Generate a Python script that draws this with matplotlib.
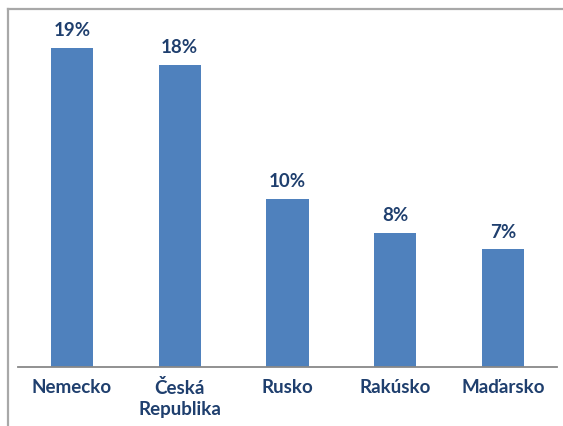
import matplotlib
matplotlib.use("Agg")
import matplotlib.pyplot as plt
from matplotlib.lines import Line2D

categories = ["Nemecko", "Česká\nRepublika", "Rusko", "Rakúsko", "Maďarsko"]
values = [19, 18, 10, 8, 7]
labels = ["19%", "18%", "10%", "8%", "7%"]

bar_color = "#4F81BD"
text_color = "#1F3F6E"

plt.rcParams['font.family'] = ['Lato', 'DejaVu Sans']

fig = plt.figure(figsize=(5.63, 4.27), dpi=100)
W, H = 563, 427
ax = fig.add_axes([18 / W, (H - 368) / H, (557 - 18) / W, (368 - 32) / H])

x = list(range(len(categories)))
ax.bar(x, values, width=0.39, color=bar_color, zorder=2)
ax.set_xlim(-0.5, len(categories) - 0.5)
ax.set_ylim(0, 20)

for xi, v, lab in zip(x, values, labels):
    ax.annotate(lab, (xi, v), xytext=(0, 7), textcoords="offset points",
                ha="center", va="bottom", fontsize=13.5, fontweight="bold",
                color=text_color)

ax.set_xticks(x)
ax.set_xticklabels(categories, fontsize=13.5, fontweight="bold", color=text_color,
                   linespacing=1.25)
ax.tick_params(axis="x", length=0, pad=8)
ax.set_yticks([])
for s in ["top", "right", "left"]:
    ax.spines[s].set_visible(False)
ax.spines["bottom"].set_color("#888888")
ax.spines["bottom"].set_linewidth(1.3)

# outer chart border (partially visible)
fig.add_artist(Line2D([8 / W, 8 / W], [0, (H - 10) / H], transform=fig.transFigure,
                      color="#A8A8A8", lw=1.6))
fig.add_artist(Line2D([8 / W, 1], [(H - 10) / H, (H - 10) / H], transform=fig.transFigure,
                      color="#A8A8A8", lw=1.6))

fig.savefig("out.png", dpi=100)
